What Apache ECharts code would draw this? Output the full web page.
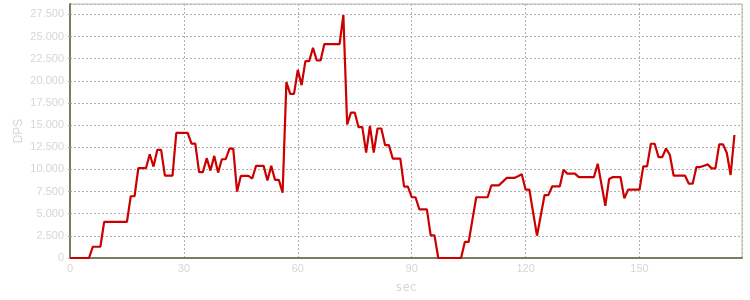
<!DOCTYPE html>
<html>
<head>
<meta charset="utf-8">
<script src="https://cdn.jsdelivr.net/npm/echarts@6/dist/echarts.min.js"></script>
<style>html,body{margin:0;padding:0;background:#fff}#c{width:750px;height:300px}</style>
</head>
<body>
<div id="c"></div>
<script>
// DPS sampled once per second, starting at 0 sec
const dps = [
  0, 0, 0, 0, 0, 0, 1270, 1270, 1270, 4070,
  4070, 4070, 4070, 4070, 4070, 4070, 6970, 6970, 10140, 10140,
  10140, 11720, 10320, 12210, 12210, 9300, 9300, 9300, 14130, 14130,
  14130, 14130, 12920, 12920, 9690, 9690, 11270, 9870, 11530, 9640,
  11150, 11150, 12350, 12350, 7500, 9270, 9270, 9270, 8970, 10400,
  10400, 10400, 8740, 10400, 8820, 8820, 7380, 19860, 18540, 18540,
  21250, 19520, 22230, 22230, 23740, 22300, 22300, 24150, 24150, 24150,
  24150, 24150, 27430, 15070, 16420, 16420, 14770, 14770, 11900, 14920,
  11900, 14620, 14620, 12740, 12740, 11230, 11230, 11230, 8060, 8060,
  6860, 6860, 5500, 5500, 5500, 2560, 2560, 0, 0, 0,
  0, 0, 0, 0, 1810, 1810, 4330, 6860, 6860, 6860,
  6860, 8210, 8210, 8210, 8620, 9040, 9040, 9040, 9230, 9450,
  7710, 7710, 5100, 2520, 4800, 7110, 7110, 8080, 8080, 8080,
  9970, 9520, 9520, 9520, 9140, 9140, 9140, 9140, 9140, 10650,
  8270, 5900, 8920, 9140, 9140, 9140, 6730, 7710, 7710, 7710,
  7710, 10340, 10340, 12900, 12900, 11400, 11400, 12370, 11630, 9290,
  9290, 9290, 9290, 8390, 8390, 10270, 10270, 10420, 10570, 10120,
  10120, 12830, 12830, 11850, 9370, 13890
];
const seconds = dps.map((_, i) => i);
const xTickStep = 30;
const yTickStep = 2500;

const fmt = v => {
  const s = Math.round(v).toString();
  return s.replace(/\B(?=(\d{3})+(?!\d))/g, '.');
};

const chart = echarts.init(document.getElementById('c'), null, {renderer: 'canvas'});
const labelColor = '#d6d6d6';
chart.setOption({
  animation: false,
  grid: {left: 70, right: 8, top: 4, bottom: 42, containLabel: false, outerBoundsMode: 'none',
         show: true, borderColor: '#b9b8a4', borderWidth: 1, backgroundColor: '#fff'},
  xAxis: {
    type: 'value', min: 0, max: 177, interval: xTickStep,
    name: 'sec', nameLocation: 'middle', nameGap: 24, nameMoveOverlap: false,
    nameTextStyle: {color: labelColor, fontSize: 12, fontFamily: 'DejaVu Sans Mono'},
    axisLine: {show: true, lineStyle: {color: '#7d7c62', width: 2}},
    axisTick: {show: false},
    axisLabel: {color: labelColor, fontSize: 11, fontFamily: 'Liberation Sans', margin: 5, showMaxLabel: false},
    splitLine: {show: true, lineStyle: {color: '#b0b0b0', type: [2, 2], width: 1}}
  },
  yAxis: {
    type: 'value', min: 0, max: 28680, interval: yTickStep,
    name: 'DPS', nameLocation: 'middle', nameGap: 45, nameMoveOverlap: false,
    nameTextStyle: {color: labelColor, fontSize: 12, fontFamily: 'Liberation Sans'},
    axisLine: {show: true, lineStyle: {color: '#7d7c62', width: 2}},
    axisTick: {show: true, length: 2, lineStyle: {color: '#b0b0b0'}},
    axisLabel: {color: labelColor, fontSize: 11, fontFamily: 'Liberation Sans', margin: 6, showMaxLabel: false, formatter: fmt},
    splitLine: {show: true, lineStyle: {color: '#b0b0b0', type: [2, 2], width: 1}}
  },
  series: [{
    type: 'line',
    data: seconds.map((t, i) => [t, dps[i]]),
    showSymbol: false,
    lineStyle: {color: '#cc0000', width: 2.2},
    itemStyle: {color: '#cc0000'}
  }]
});
</script>
</body>
</html>
